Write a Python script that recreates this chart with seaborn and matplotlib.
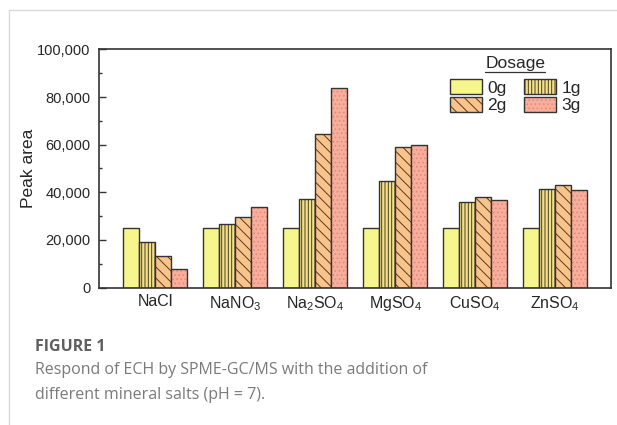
import matplotlib
matplotlib.use("Agg")
import matplotlib.pyplot as plt
import matplotlib.colors as mcolors
from matplotlib.lines import Line2D
from matplotlib.ticker import MultipleLocator, FuncFormatter
import pandas as pd
import seaborn as sns

# Salt categories (tick labels use mathtext subscripts)
salts = ["NaCl", "NaNO$_3$", "Na$_2$SO$_4$", "MgSO$_4$", "CuSO$_4$", "ZnSO$_4$"]
doses = ["0g", "1g", "2g", "3g"]

# Peak area for each salt at each dosage
area_0g = [25200, 25200, 25200, 25200, 25200, 25200]
area_1g = [19200, 26700, 37100, 44700, 35800, 41400]
area_2g = [13300, 29500, 64400, 59200, 38200, 42900]
area_3g = [7900, 33700, 84000, 60000, 36900, 40800]

bar_colors = ["#F6F68C", "#F2E08C", "#F9C38C", "#F9AE9C"]
hatches = ["", "|||||", "\\\\\\", "...."]
hatch_colors = ["#333333", "#4a3f1a", "#5a3a20", "#E58A7A"]

sns.set_theme(style="ticks")
plt.rcParams["font.family"] = ["Liberation Sans", "DejaVu Sans"]
plt.rcParams["mathtext.default"] = "regular"
plt.rcParams["hatch.linewidth"] = 0.7

rows = []
for dose, vals in zip(doses, [area_0g, area_1g, area_2g, area_3g]):
    for s, v in zip(salts, vals):
        rows.append({"salt": s, "dose": dose, "area": v})
df = pd.DataFrame(rows)

fig = plt.figure(figsize=(6.17, 4.25), dpi=100)
ax = fig.add_axes([99 / 617, 1 - 287.5 / 425, (610.5 - 99) / 617, (287.5 - 49.5) / 425])

sns.barplot(data=df, x="salt", y="area", hue="dose", order=salts, hue_order=doses,
            palette=bar_colors, saturation=1, width=0.8, gap=0,
            edgecolor="#333333", linewidth=1.0, errorbar=None, ax=ax)

for cont, h, hc in zip(ax.containers, hatches, hatch_colors):
    for p in cont.patches:
        p.set_hatch(h)
        p._hatch_color = mcolors.to_rgba(hc)

ax.set_xlim(-0.7, 5.69)
ax.set_ylim(0, 100000)
ax.yaxis.set_major_locator(MultipleLocator(20000))
ax.yaxis.set_minor_locator(MultipleLocator(10000))
ax.yaxis.set_major_formatter(FuncFormatter(lambda v, _: f"{int(v):,}"))
ax.tick_params(axis="y", which="major", direction="in", length=5, width=1,
               labelsize=10.5, pad=6, color="#333333")
ax.tick_params(axis="y", which="minor", direction="in", length=2.5, width=1,
               color="#333333")
ax.tick_params(axis="x", length=0, labelsize=11.5, pad=5)
ax.set_xlabel("")
ax.set_ylabel("Peak area", fontsize=12.5, labelpad=1)
for sp in ax.spines.values():
    sp.set_visible(True)
    sp.set_color("#333333")
    sp.set_linewidth(1.2)

# Legend filled row-wise: 0g 1g / 2g 3g
handles, labels = ax.get_legend_handles_labels()
order = [0, 2, 1, 3]
leg = ax.legend([handles[i] for i in order], [labels[i] for i in order], ncol=2,
                title="Dosage", frameon=False, fontsize=12.5, title_fontsize=12.5,
                loc="upper left", bbox_to_anchor=(450 / 617, 1 - 56 / 425),
                bbox_transform=fig.transFigure, borderpad=0, borderaxespad=0,
                handlelength=1.85, handleheight=0.9, labelspacing=0.1,
                columnspacing=1.0, handletextpad=0.3)
leg._legend_box.sep = 6
for lh, i in zip(leg.legend_handles, order):
    lh.set_hatch(hatches[i])
    lh._hatch_color = mcolors.to_rgba(hatch_colors[i])

# Outer frame lines on the left and top
fig.add_artist(Line2D([9 / 617, 9 / 617], [0, 1 - 10 / 425], color="#d9d9d9",
                      lw=1.0, transform=fig.transFigure))
fig.add_artist(Line2D([9 / 617, 1], [1 - 10 / 425, 1 - 10 / 425], color="#d9d9d9",
                      lw=1.0, transform=fig.transFigure))

fig.text(35 / 617, 1 - 347 / 425, "FIGURE 1", fontsize=11.5, fontweight="bold",
         color="#5f5f5f", family=["Open Sans", "DejaVu Sans"], va="center")
fig.text(35 / 617, 1 - 370 / 425, "Respond of ECH by SPME-GC/MS with the addition of",
         fontsize=11.5, color="#7a7a7a", family=["Open Sans", "DejaVu Sans"], va="center")
fig.text(35 / 617, 1 - 395 / 425, "different mineral salts (pH = 7).",
         fontsize=11.5, color="#7a7a7a", family=["Open Sans", "DejaVu Sans"], va="center")

# Underline the legend title
fig.canvas.draw()
bb = leg.get_title().get_window_extent()
inv = fig.transFigure.inverted()
(x0, y0), (x1, _) = inv.transform([(bb.x0, bb.y0 - 1), (bb.x1, bb.y0)])
fig.add_artist(Line2D([x0, x1], [y0, y0], color="#333333", lw=0.9,
                      transform=fig.transFigure))

fig.savefig("out.png", dpi=100)
